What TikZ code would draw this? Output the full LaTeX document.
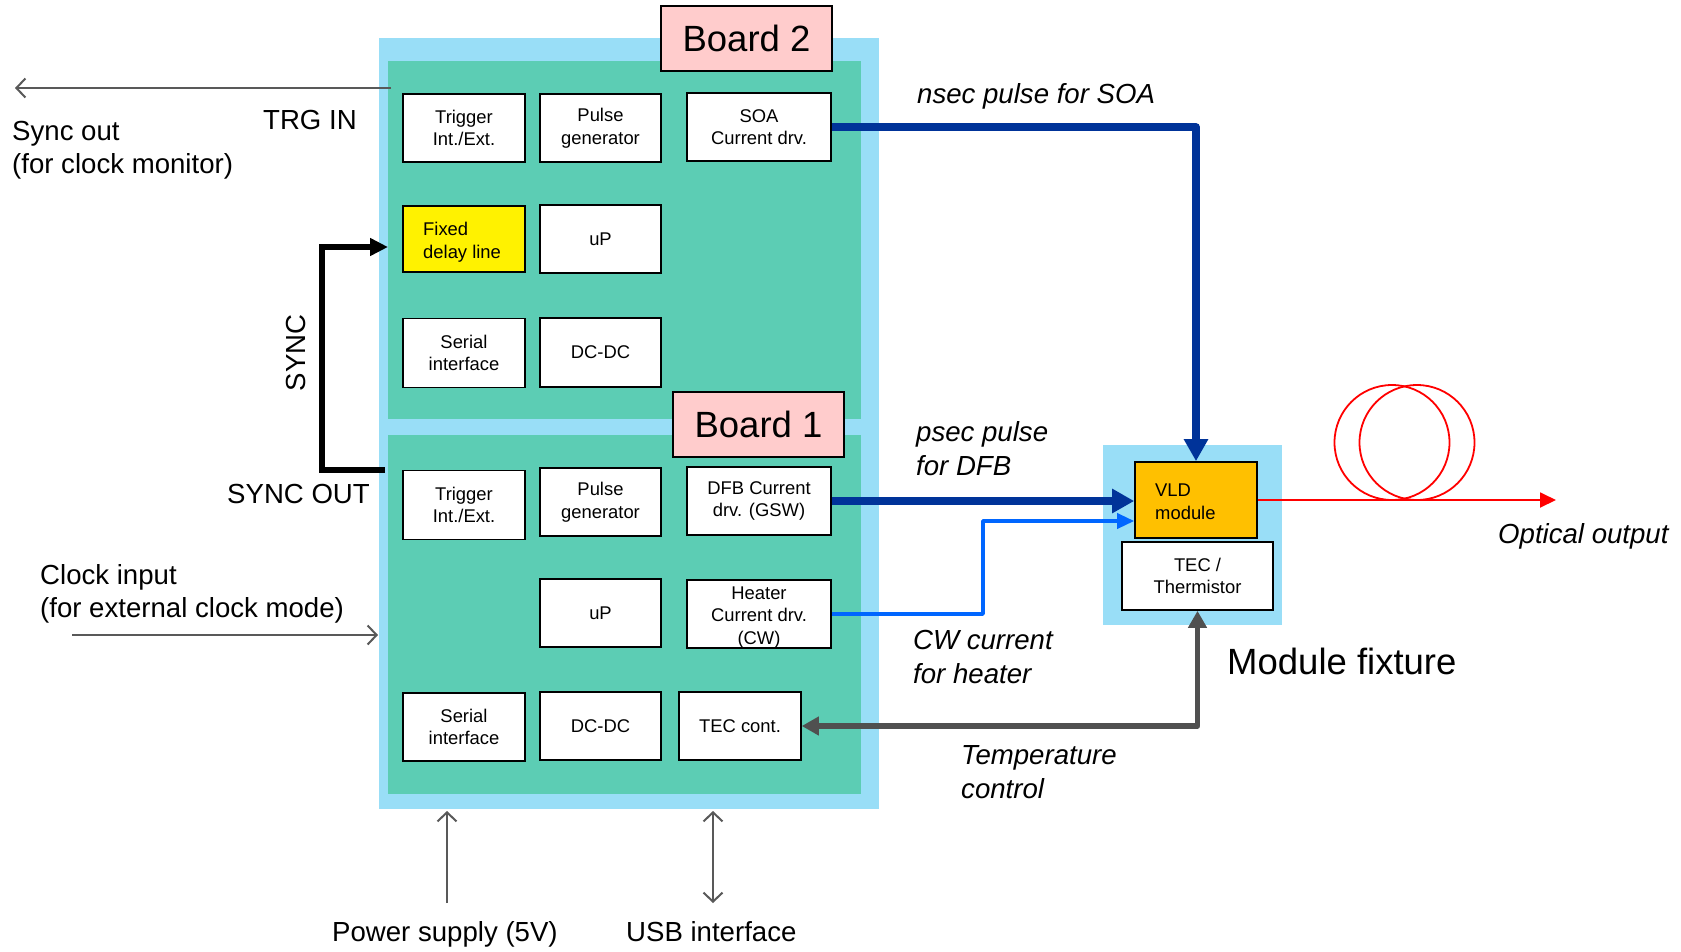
\documentclass[tikz,border=0pt]{standalone}
\usepackage{fontspec}
\setmainfont{Liberation Sans}
\usetikzlibrary{arrows.meta}
\definecolor{frameblue}{RGB}{153,222,247}
\definecolor{boardteal}{RGB}{92,205,180}
\definecolor{pinklbl}{RGB}{255,204,204}
\definecolor{vldorange}{RGB}{255,192,0}
\definecolor{dblue}{RGB}{0,51,153}
\definecolor{bblue}{RGB}{0,102,255}
\definecolor{tecgray}{RGB}{80,80,80}
\definecolor{thingray}{RGB}{89,89,89}
\definecolor{fibred}{RGB}{255,0,0}
\tikzset{
  box/.style={draw=black, line width=1.6pt, fill=white, inner sep=0pt, align=center,
    minimum height=68pt, font=\fontsize{18.4}{22.5}\selectfont},
  boxtxt/.style={inner sep=0pt, font=\fontsize{18.4}{22.5}\selectfont},
  boardlbl/.style={draw=black, line width=1.6pt, fill=pinklbl, inner sep=0pt,
    minimum width=171pt, minimum height=65pt, font=\fontsize{36.5}{40}\selectfont},
  lbl/.style={inner sep=0pt, anchor=base west, align=left, font=\fontsize{27.6}{33}\selectfont},
  ilbl/.style={lbl, font=\itshape\fontsize{27.6}{33.5}\selectfont},
  thinarrow/.style={draw=thingray, line width=2pt, -{Straight Barb[length=9pt,width=19pt]}},
  thickdb/.style={draw=dblue, line width=7.5pt, line join=round, -{Triangle[length=22pt,width=23pt]}},
  thinbb/.style={draw=bblue, line width=3.5pt, line join=round, -{Triangle[length=17pt,width=15pt]}},
  tecline/.style={draw=tecgray, line width=5.5pt, line join=round, {Triangle[length=17pt,width=18pt]}-{Triangle[length=17pt,width=18pt]}},
  syncline/.style={draw=black, line width=5.5pt, line join=miter, -{Triangle[length=18pt,width=17pt]}},
  fibre/.style={draw=fibred, line width=1.8pt},
}
\begin{document}
\begin{tikzpicture}[x=1pt,y=-1pt]
\useasboundingbox (0,0) rectangle (1681,951);
\fill[white] (0,0) rectangle (1681,951);
% board frame
\fill[frameblue] (379,38) rectangle (879,809);
\fill[boardteal] (388,61) rectangle (861,419);
\fill[boardteal] (388,435) rectangle (861,794);
% module fixture
\fill[frameblue] (1103,445) rectangle (1282,625);

% Board 2 boxes
\node[box, minimum width=122pt] (trig2) at (464,128) {Trigger\\Int./Ext.};
\node[box, minimum width=121pt] (pulse2) at (600.5,128) {Pulse\\generator};
\node[box, minimum width=144pt] (soa) at (759,127) {SOA\\Current drv.};
\node[box, minimum width=122pt, minimum height=66pt, fill=yellow] (delay) at (464,239) {};
\node[boxtxt, anchor=base west, align=left] (delaytxt) at (423,258) {Fixed\\delay line};
\node[box, minimum width=121pt] (up2) at (600.5,239) {uP};
\node[box, minimum width=122pt, minimum height=69pt] (ser2) at (464,353) {Serial\\interface};
\node[box, minimum width=121pt, minimum height=69pt] (dc2) at (600.5,352.5) {DC-DC};

% Board 1 boxes
\node[box, minimum width=122pt, minimum height=69pt] (trig1) at (464,505) {Trigger\\Int./Ext.};
\node[box, minimum width=121pt] (pulse1) at (600.5,502) {Pulse\\generator};
\node[box, minimum width=144pt] (dfb) at (759,501) {DFB Current\\drv. (GSW)};
\node[box, minimum width=121pt] (up1) at (600.5,613) {uP};
\node[box, minimum width=144pt] (heater) at (759,614) {};
\node[boxtxt, anchor=base, align=center] (heatertxt) at (759,644) {Heater\\Current drv.\\(CW)};
\node[box, minimum width=122pt] (ser1) at (464,727) {Serial\\interface};
\node[box, minimum width=121pt] (dc1) at (600.5,726) {DC-DC};
\node[box, minimum width=122pt] (teccont) at (740,726) {TEC cont.};

% board labels
\node[boardlbl] (b2lbl) at (746.5,38.5) {Board 2};
\node[boardlbl] (b1lbl) at (758.5,424.5) {Board 1};

% module fixture boxes
\node[box, minimum width=122pt, minimum height=76pt, fill=vldorange] (vld) at (1196,500) {};
\node[boxtxt, anchor=base west, align=left] (vldtxt) at (1155,519) {VLD\\module};
\node[box, minimum width=151pt] (tecth) at (1197.5,576) {TEC /\\Thermistor};

% connectors
\draw[thickdb] (soa.east) -| (vld.north);
\draw[thickdb] (dfb.east) -- (dfb.east -| vld.west);
\coordinate (hturn) at (983,521);
\draw[thinbb] (heater.east) -| (hturn) -- (hturn -| vld.west);
\draw[tecline] (teccont.east) -| (tecth.south);

% fibre
\coordinate (optend) at (1556,500);
\draw[fibre] (1392,442.5) circle (57.5);
\draw[fibre] (1417,442.5) circle (57.5);
\draw[fibre, -{Triangle[length=16pt,width=15pt]}] (vld.east) -- (optend);

% sync loop
\coordinate (syncsrc) at (385,470);
\coordinate (synccorner) at (322,470);
\coordinate (syncdst) at (388,247);
\draw[syncline] (syncsrc) -- (synccorner) |- (syncdst);

% thin external arrows
\coordinate (trgstart) at (391,88);
\coordinate (trgend) at (15,88);
\draw[thinarrow] (trgstart) -- (trgend);
\coordinate (clkstart) at (72,635);
\coordinate (clkend) at (378,635);
\draw[thinarrow] (clkstart) -- (clkend);
\coordinate (pwrstart) at (447,903);
\coordinate (pwrend) at (447,811);
\draw[thinarrow] (pwrstart) -- (pwrend);
\coordinate (usbbot) at (713,903);
\coordinate (usbtop) at (713,811);
\draw[thinarrow, {Straight Barb[length=9pt,width=19pt]}-{Straight Barb[length=9pt,width=19pt]}] (usbbot) -- (usbtop);

% labels
\node[lbl] (trgin) at (263,129) {TRG IN};
\node[lbl] (syncoutlbl) at (12,173) {Sync out\\(for clock monitor)};
\node[lbl] (syncoutb) at (227,503) {SYNC OUT};
\node[lbl, anchor=base, rotate=90] (synclbl) at (305,353) {SYNC};
\node[lbl] (clklbl) at (40,617) {Clock input\\(for external clock mode)};
\node[lbl] (pwrlbl) at (332,941) {Power supply (5V)};
\node[lbl] (usblbl) at (626,941) {USB interface};
\node[ilbl] (nseclbl) at (917,103) {nsec pulse for SOA};
\node[ilbl] (pseclbl) at (916,475) {psec pulse\\for DFB};
\node[ilbl] (cwlbl) at (913,683) {CW current\\for heater};
\node[ilbl] (templbl) at (961,798) {Temperature\\control};
\node[ilbl] (optlbl) at (1498,543) {Optical output};
\node[lbl, font=\fontsize{36.5}{40}\selectfont] (modlbl) at (1227,674) {Module fixture};
\end{tikzpicture}
\end{document}
